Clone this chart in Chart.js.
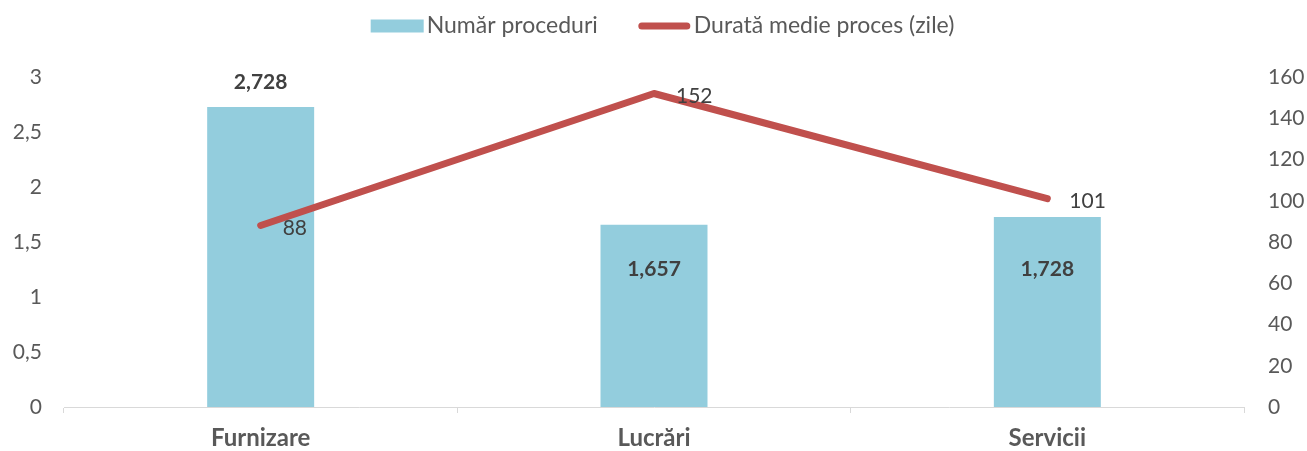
<!DOCTYPE html>
<html><head><meta charset="utf-8">
<script src="https://cdn.jsdelivr.net/npm/chart.js@4.4.1/dist/chart.umd.min.js"></script>
<style>html,body{margin:0;padding:0;background:#fff}#wrap{width:1307px;height:451px}</style>
</head><body><div id="wrap"><canvas id="c" width="1307" height="451"></canvas></div>
<script>
const categories = ['Furnizare', 'Lucrări', 'Servicii'];
const procedures = [2.728, 1.657, 1.728];
const duration = [88, 152, 101];
const leftTicks = [0, 0.5, 1, 1.5, 2, 2.5, 3];
const rightTicks = [0, 20, 40, 60, 80, 100, 120, 140, 160];
const seriesNames = ['Număr proceduri', 'Durată medie proces (zile)'];

const FONT = 'Lato, "Open Sans", sans-serif';
const BAR_COLOR = '#93CDDD';
const LINE_COLOR = '#C0504D';
const TXT = '#595959';

const fmtComma = v => String(v).replace('.', ',');
const fmtBar = v => v.toFixed(3).replace('.', ',');

function metaOfType(chart, type) {
  for (let i = 0; i < chart.data.datasets.length; i++) {
    if (chart.data.datasets[i].type === type) return chart.getDatasetMeta(i);
  }
}

const labelPlugin = {
  id: 'labels',
  afterDatasetsDraw(chart) {
    const ctx = chart.ctx;
    ctx.save();
    const barMeta = metaOfType(chart, 'bar');
    const barOffsets = [-25, 45, 52];
    ctx.font = 'bold 21px ' + FONT;
    ctx.fillStyle = '#404040';
    ctx.textAlign = 'center';
    ctx.textBaseline = 'middle';
    barMeta.data.forEach((el, i) => {
      ctx.fillText(fmtBar(procedures[i]), el.x, el.y + barOffsets[i]);
    });
    const lineMeta = metaOfType(chart, 'line');
    ctx.font = '21px ' + FONT;
    ctx.textAlign = 'left';
    lineMeta.data.forEach((el, i) => {
      ctx.fillText(String(duration[i]), el.x + 22, el.y + 3);
    });
    ctx.restore();
  },
  afterDraw(chart) {
    const ctx = chart.ctx;
    ctx.save();
    ctx.font = '23px ' + FONT;
    const sw = 53, gap = 3, between = 40;
    const w0 = ctx.measureText(seriesNames[0]).width;
    const w1 = ctx.measureText(seriesNames[1]).width;
    const total = sw + gap + w0 + between + sw + gap + w1;
    let x = chart.width / 2 + 9 - total / 2;
    const y = 26;
    ctx.fillStyle = BAR_COLOR;
    ctx.fillRect(x, y - 6.5, sw, 13);
    x += sw + gap;
    ctx.fillStyle = TXT;
    ctx.textAlign = 'left';
    ctx.textBaseline = 'middle';
    ctx.fillText(seriesNames[0], x, y);
    x += w0 + between;
    ctx.strokeStyle = LINE_COLOR;
    ctx.lineWidth = 7;
    ctx.lineCap = 'round';
    ctx.beginPath();
    ctx.moveTo(x + 4, y);
    ctx.lineTo(x + sw - 4, y);
    ctx.stroke();
    x += sw + gap;
    ctx.fillText(seriesNames[1], x, y);
    ctx.restore();
  }
};

new Chart(document.getElementById('c'), {
  data: {
    labels: categories,
    datasets: [
      {
        type: 'line', label: seriesNames[1], data: duration, yAxisID: 'y1',
        borderColor: LINE_COLOR, backgroundColor: LINE_COLOR, borderWidth: 7,
        borderCapStyle: 'round', borderJoinStyle: 'round',
        pointRadius: 0, tension: 0, order: 0
      },
      {
        type: 'bar', label: seriesNames[0], data: procedures, yAxisID: 'y',
        backgroundColor: BAR_COLOR, barPercentage: 0.272, categoryPercentage: 1, order: 1
      }
    ]
  },
  options: {
    responsive: false, animation: false,
    layout: { padding: { top: 77, left: 0, right: 0, bottom: 0 } },
    plugins: { legend: { display: false }, tooltip: { enabled: false } },
    scales: {
      x: {
        offset: true,
        grid: { offset: true, drawOnChartArea: false, drawTicks: true, tickLength: 6, color: '#D9D9D9' },
        border: { color: '#D9D9D9', width: 1 },
        ticks: { font: { family: FONT, size: 24, weight: 'bold' }, color: TXT, padding: 11 },
        afterFit(s) { s.height = 44; }
      },
      y: {
        position: 'left', min: 0, max: 3,
        afterBuildTicks(s) { s.ticks = leftTicks.map(v => ({ value: v })); },
        grid: { display: false, drawTicks: false },
        border: { display: false },
        ticks: { font: { family: FONT, size: 21 }, color: TXT, padding: 22, callback: v => fmtComma(v) },
        afterFit(s) { s.width = 64; }
      },
      y1: {
        position: 'right', min: 0, max: 160,
        afterBuildTicks(s) { s.ticks = rightTicks.map(v => ({ value: v })); },
        grid: { display: false, drawTicks: false },
        border: { display: false },
        ticks: { font: { family: FONT, size: 21 }, color: TXT, padding: 24 },
        afterFit(s) { s.width = 63; }
      }
    }
  },
  plugins: [labelPlugin]
});
</script></body></html>
